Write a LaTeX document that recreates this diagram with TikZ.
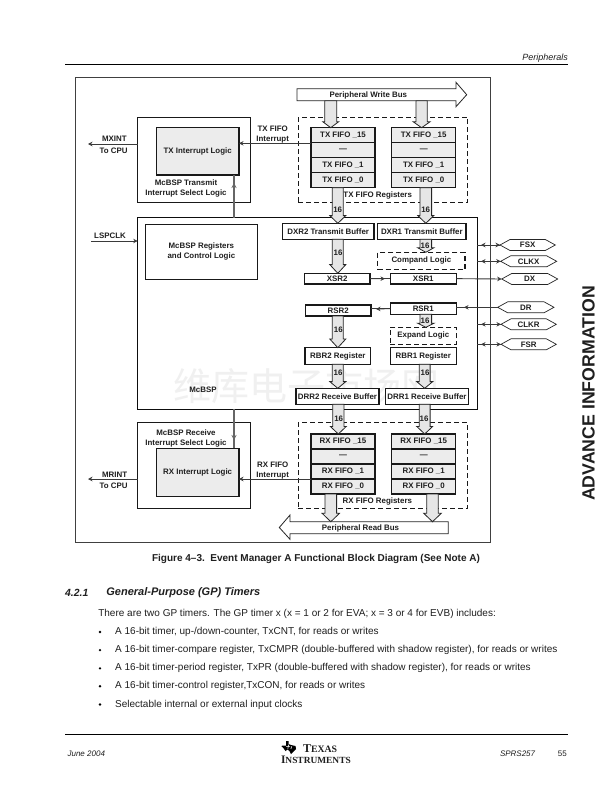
\documentclass[tikz,border=0pt]{standalone}
\usepackage{fontspec}
\setmainfont{Liberation Sans}
\newfontfamily\cjkwm{Noto Sans CJK SC}
\newfontfamily\tiserif{Liberation Serif}
\usetikzlibrary{calc,arrows.meta}
\definecolor{boxgray}{HTML}{ECECEC}
\definecolor{fatgray}{HTML}{E6E6E6}
\definecolor{wiregray}{HTML}{3A3A3A}
\newcommand\lab{\fontsize{7.9}{10}\selectfont\bfseries}
\newcommand\bodyt{\fontsize{10}{11}\selectfont}
\tikzset{
  x=1pt,y=-1pt,
  every node/.style={inner sep=0pt,outer sep=0pt,text=black!88},
  rbox/.style={draw=black!90,line width=1.1pt,fill=white,font=\lab,align=center},
  thinbox/.style={draw=black!90,line width=0.9pt,font=\lab,align=center},
  greybox/.style={draw=black!90,line width=1.1pt,fill=boxgray,font=\lab,align=center},
  dashbox/.style={draw=black!90,line width=1.1pt,dash pattern=on 5pt off 3pt,fill=white,font=\lab,align=center},
  ghost/.style={font=\lab,align=center},
  txt/.style={font=\lab,align=center},
  fat/.style={draw=black!85,line width=0.8pt,fill=fatgray,line join=miter},
  bus/.style={draw=black!85,line width=0.8pt,fill=white},
  wire/.style={draw=wiregray,line width=0.9pt},
  thickwire/.style={draw=black!60,line width=1.4pt},
  tipped/.style={wire,-{Stealth[length=4.5pt,width=4.5pt]}},
  tippedg/.style={draw=black!60,line width=1.4pt,-{Stealth[length=5pt,width=5pt]}},
  body/.style={font=\bodyt,anchor=west},
}
\newcommand\rectn[7][]{\node[#1,minimum width={((#5)-(#3))*1pt},minimum height={((#6)-(#4))*1pt}] (#2) at ({((#3)+(#5))/2},{((#4)+(#6))/2}) {#7};}
% fat arrow from node #1 down to node #2 at centre #3, half shaft #4, half head #5, head length #6
\newcommand\fatdown[6]{\draw[fat] let \p1=(#1.south),\p2=(#2.north) in
  ({(#3-#4)*1pt},\y1) -- ({(#3-#4)*1pt},{\y2+(#6)*1pt}) -- ({(#3-#5)*1pt},{\y2+(#6)*1pt}) -- ({#3*1pt},\y2)
  -- ({(#3+#5)*1pt},{\y2+(#6)*1pt}) -- ({(#3+#4)*1pt},{\y2+(#6)*1pt}) -- ({(#3+#4)*1pt},\y1) -- cycle;}
% signal hexagon
\newcommand\hexsig[5]{\node[ghost,minimum width={(#3-#2)*1pt},minimum height=11pt] (#1) at ({(#2+#3)/2},#4) {};
  \draw[bus,line width=0.7pt] (#1.west) -- ($(#1.west)+(10,-5.5)$) -- ($(#1.east)+(-10,-5.5)$) -- (#1.east) -- ($(#1.east)+(-10,5.5)$) -- ($(#1.west)+(10,5.5)$) -- cycle;
  \node[ghost] (#1t) at (#1.center) {#5};}
% fifo stack
\newcommand\fifo[4]{% prefix, x1, ytop, letters
  \rectn[greybox]{#1a}{#2}{#3}{#2+64}{#3+15}{#4 FIFO \_15}
  \rectn[greybox]{#1b}{#2}{#3+15}{#2+64}{#3+30}{—}
  \rectn[greybox]{#1c}{#2}{#3+30}{#2+64}{#3+45}{#4 FIFO \_1}
  \rectn[greybox]{#1d}{#2}{#3+45}{#2+64}{#3+60}{#4 FIFO \_0}}
\begin{document}
\begin{tikzpicture}
\useasboundingbox (0,0) rectangle (612,792);
\fill[white] (0,0) rectangle (612,792);

% page header
\node[font=\fontsize{9}{11}\selectfont\itshape,anchor=east] (hdr) at (568,58) {Peripherals};
\coordinate (hrA) at (65,65); \coordinate (hrB) at (568,65);
\draw[line width=1pt] (hrA) -- (hrB);

% outer frame
\rectn[draw=black!75,line width=0.9pt]{frame}{75.5}{77.5}{490}{542.7}{}

% interrupt blocks
\rectn[thinbox]{txout}{137.7}{117.3}{250.7}{202.7}{}
\rectn[greybox]{txint}{156.3}{127.3}{239}{175}{TX Interrupt Logic}
\node[txt] (txsel) at (186,188.2) {McBSP Transmit\\Interrupt Select Logic};
\rectn[thinbox]{rxout}{137.7}{422.7}{250.7}{508.3}{}
\rectn[greybox]{rxint}{156.3}{448.3}{239}{496.3}{RX Interrupt Logic}
\node[txt] (rxsel) at (186,438.4) {McBSP Receive\\Interrupt Select Logic};

% main block
\rectn[draw=black!95,line width=1pt,fill=white]{main}{137.7}{217.7}{477}{409}{}
\node[font=\cjkwm\fontsize{38}{40}\selectfont,text=black!6] (wm) at (306,386) {维库电子市场网};
\rectn[thinbox]{regs}{145}{224}{257.7}{279}{McBSP Registers\\and Control Logic}
\node[txt] (mcbsp) at (203,390) {McBSP};

% write bus
\rectn[]{wbus}{297}{88.7}{456}{100.7}{}
\draw[bus] (wbus.north west) -- (wbus.north east) -- (456,82.3) -- (466.7,94.7) -- (456,106.7) -- (wbus.south east) -- (wbus.south west) -- cycle;
\node[txt] (wbusl) at (368.3,95) {Peripheral Write Bus};

% TX FIFO registers
\rectn[dashbox]{txregs}{298.3}{117.3}{467.7}{202.7}{}
\fifo{txl}{311}{127.7}{TX}
\fifo{txr}{391.7}{127.7}{TX}
\node[txt] (txregl) at (377.7,195) {TX FIFO Registers};

% transmit path
\rectn[rbox]{dxrb}{282.3}{223.3}{374}{239.3}{DXR2 Transmit Buffer}
\rectn[rbox]{dxra}{377.7}{223.3}{466}{239.3}{DXR1 Transmit Buffer}
\rectn[dashbox]{comp}{377.7}{252.3}{465}{269.3}{Compand Logic}
\rectn[rbox]{xsrb}{304.3}{273.3}{370}{284}{XSR2}
\rectn[rbox]{xsra}{390.3}{273.3}{456.3}{284}{XSR1}

% receive path
\rectn[rbox]{rsrb}{305.3}{305}{371}{316}{RSR2}
\rectn[rbox]{rsra}{390.3}{303}{456.3}{314.3}{RSR1}
\rectn[dashbox]{expd}{390.3}{327.3}{456.3}{344.3}{Expand Logic}
\rectn[rbox]{rbrb}{305}{347.7}{370.7}{364.3}{RBR2 Register}
\rectn[rbox]{rbra}{390.3}{347.7}{456.3}{364.3}{RBR1 Register}
\rectn[rbox]{drrb}{296}{388.3}{379}{404.3}{DRR2 Receive Buffer}
\rectn[rbox]{drra}{385.7}{388.3}{468.3}{404.3}{DRR1 Receive Buffer}

% RX FIFO registers
\rectn[dashbox]{rxregs}{298.3}{422.7}{467.7}{508.3}{}
\fifo{rxl}{311}{434}{RX}
\fifo{rxr}{391.7}{434}{RX}
\node[txt] (rxregl) at (377.3,501) {RX FIFO Registers};

% read bus
\rectn[]{rbus}{290}{521.7}{448.3}{533.7}{}
\draw[bus] (rbus.north east) -- (rbus.north west) -- (290,515) -- (279.3,527.5) -- (290,539.3) -- (rbus.south west) -- (rbus.south east) -- cycle;
\node[txt] (rbusl) at (360.5,528) {Peripheral Read Bus};

% fat arrows
\fatdown{wbus}{txla}{330.7}{6}{8}{6}
\fatdown{wbus}{txra}{421.6}{5.7}{8.5}{6}
\fatdown{txld}{dxrb}{337.8}{5.5}{8}{7.7}
\fatdown{txrd}{dxra}{425.8}{5.8}{8}{7.7}
\fatdown{dxrb}{xsrb}{337.8}{5.5}{8}{8.7}
\fatdown{dxra}{comp}{425.8}{5.8}{8}{4.5}
\fatdown{rsrb}{rbrb}{337.8}{5.5}{8}{8.7}
\fatdown{rsra}{expd}{425.8}{5.8}{8}{4}
\fatdown{rbrb}{drrb}{337.8}{5.5}{8}{6.7}
\fatdown{rbra}{drra}{424.7}{5.4}{8}{6.7}
\fatdown{drrb}{rxla}{338.3}{5.6}{8}{7.6}
\fatdown{drra}{rxra}{424.7}{5.4}{8}{7.6}
\fatdown{rxld}{rbus}{330.8}{5.8}{8.7}{8.4}
\fatdown{rxrd}{rbus}{432.5}{5.8}{8.8}{8.4}

% 16 labels
\foreach \nm/\xx/\yy in {sa/337.7/210,sb/425.7/210,sc/338/252.3,sd/425/245.7,se/425/321,sf/338.3/330,sg/338/372.3,sh/425/372.3,si/338.7/418.3,sj/424/418.3}
  \node[txt] (\nm) at (\xx,\yy) {16};

% signal hexagons
\hexsig{fsx}{500}{555.3}{245}{FSX}
\hexsig{clkx}{500.7}{556.7}{261.3}{CLKX}
\hexsig{dx}{501.7}{557.7}{279}{DX}
\hexsig{dr}{497.7}{554}{307.3}{DR}
\hexsig{clkr}{501}{556.3}{324.3}{CLKR}
\hexsig{fsr}{501}{556.3}{344.3}{FSR}

% double-headed control lines
\foreach \s in {fsx,clkx,clkr,fsr}{
  \draw[wire] (main.east |- \s.west) -- (\s.west);
  \coordinate (\s m) at ($(main.east |- \s.west)+(4,0)$);
  \coordinate (\s n) at ($(\s.west)+(-10,0)$);
  \draw[tipped] (\s n) -- (\s m);
  \draw[tipped] (\s n) -- (\s.west);
}

% serial shift connections
\coordinate (xm) at (385,278.7);
\draw[wire] (xsrb.east) -- (xsra.west);
\draw[tipped] (xsrb.east) -- (xm);
\draw[tipped] (xsra.east) -- (dx.west);
\coordinate (drm) at (464,307.3);
\draw[wire] (dr.west) -- (rsra.east |- dr.west);
\draw[tipped] (dr.west) -- (drm);
\coordinate (rsm) at (376,309);
\draw[wire] (rsra.west) -- (rsrb.east |- rsra.west);
\draw[tipped] (rsra.west) -- (rsm);

% clock in
\coordinate (lsp) at (91,241);
\draw[tipped] (lsp) -- (main.west |- lsp);
\node[txt] (lspl) at (110,236) {LSPCLK};

% interrupts
\coordinate (mxe) at (88,144);
\draw[tipped] (txout.west |- mxe) -- (mxe);
\node[txt] (mxl) at (114.3,139) {MXINT};
\node[txt] (mxc) at (113.7,151) {To CPU};
\draw[tipped] (txlb.west |- 0,143.3) -- (txint.east |- 0,143.3);
\node[txt] (txfi) at (272.7,134.2) {TX FIFO\\Interrupt};
\coordinate (mre) at (88,479);
\draw[tipped] (rxout.west |- mre) -- (mre);
\node[txt] (mrl) at (114.6,474.3) {MRINT};
\node[txt] (mrc) at (113.7,486) {To CPU};
\draw[tipped] (rxld.west |- 0,479) -- (rxint.east |- 0,479);
\node[txt] (rxfi) at (272.7,470.4) {RX FIFO\\Interrupt};

% vertical links main <-> interrupt logic
\coordinate (vx) at (234,0);
\coordinate (upm) at (234,183);
\coordinate (dnm) at (234,440);
\draw[thickwire] (vx |- main.north) -- (vx |- txint.south);
\draw[tippedg] (vx |- main.north) -- (upm);
\draw[thickwire] (vx |- main.south) -- (vx |- rxint.north);
\draw[tippedg] (vx |- main.south) -- (dnm);

% side text
\node[font=\fontsize{17.7}{20}\selectfont\bfseries,rotate=90] (adv) at (588.5,393.5) {ADVANCE INFORMATION};

% caption and body
\node[font=\fontsize{10}{12}\selectfont\bfseries] (cap) at (316,559) {Figure 4–3.\ \ Event Manager A Functional Block Diagram (See Note A)};
\node[font=\fontsize{10.4}{13}\selectfont\bfseries\itshape,anchor=west] (secn) at (65.2,593) {4.2.1};
\node[font=\fontsize{11}{13}\selectfont\bfseries\itshape,anchor=west] (sect) at (106.4,593) {General-Purpose (GP) Timers};
\node[body] (intro) at (98.3,614) {There are two GP timers. The GP timer x (x = 1 or 2 for EVA; x = 3 or 4 for EVB) includes:};
\foreach \nm/\yy/\tx in {ba/632/{A 16-bit timer, up-/down-counter, TxCNT, for reads or writes},
  bb/650.1/{A 16-bit timer-compare register, TxCMPR (double-buffered with shadow register), for reads or writes},
  bc/668.3/{A 16-bit timer-period register, TxPR (double-buffered with shadow register), for reads or writes},
  bd/686.2/{A 16-bit timer-control register,TxCON, for reads or writes},
  be/704.5/{Selectable internal or external input clocks}}{
  \node[body] (\nm) at (115.2,\yy) {\tx};
  \fill (100,\yy) circle (1.3);
}

% footer
\coordinate (frA) at (65,734); \coordinate (frB) at (568,734);
\draw[line width=1pt] (frA) -- (frB);
\node[font=\fontsize{8}{10}\selectfont\itshape,anchor=west] (fda) at (67.6,753.8) {June 2004};
\node[font=\fontsize{8}{10}\selectfont\itshape,anchor=west] (fdb) at (500,753.8) {SPRS257};
\node[font=\fontsize{8}{10}\selectfont,anchor=west] (fdc) at (557.8,753.8) {55};
\fill[black] (286,741) -- (288.5,741) -- (288.5,744) -- (291,745) -- (295.5,746) -- (296,749) -- (293,752) -- (291,754) -- (289.5,751) -- (287.5,749.5) -- (285.5,751) -- (283,747.5) -- (281.5,746.5) -- (282,745.5) -- (286,745.5) -- cycle;
\draw[white,line width=0.6pt] (288.6,744.6) -- (287.8,749) (286.2,746.4) -- (290,746.4) (291.6,746.4) -- (290.9,749);
\node[font=\tiserif\fontsize{9.8}{10}\selectfont\bfseries,anchor=west] (tia) at (303,749) {{\fontsize{12}{10}\selectfont T}EXAS};
\node[font=\tiserif\fontsize{9.4}{10}\selectfont\bfseries,anchor=west] (tib) at (281,759.3) {{\fontsize{11.5}{10}\selectfont I}NSTRUMENTS};
\end{tikzpicture}
\end{document}
